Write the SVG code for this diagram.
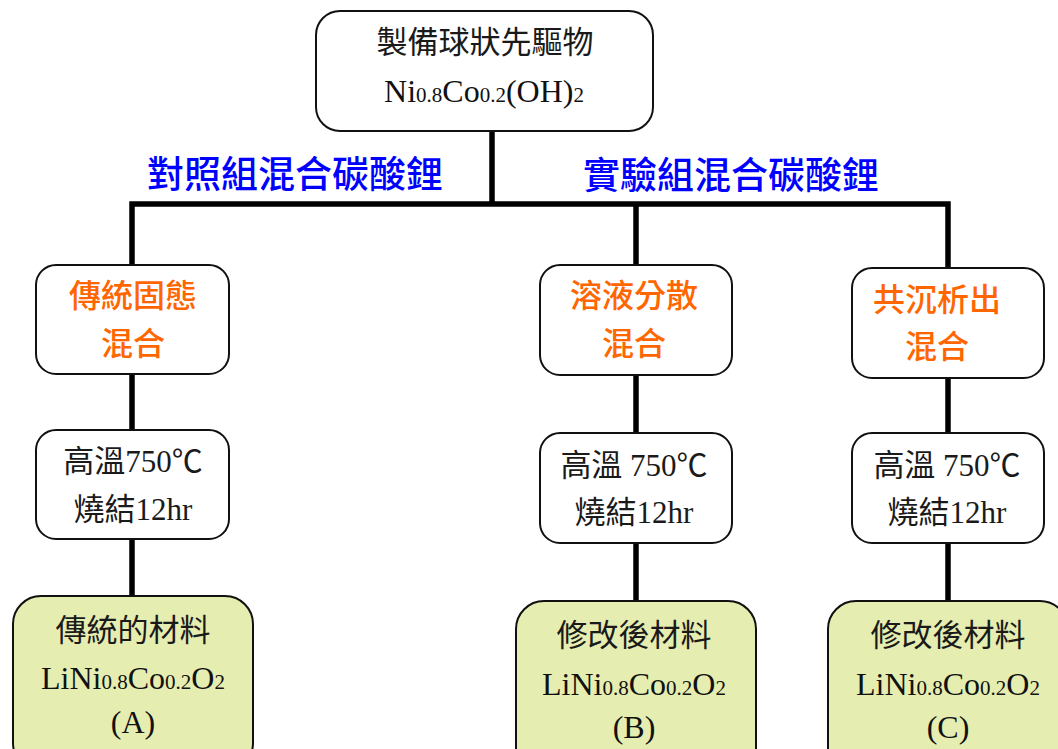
<svg xmlns="http://www.w3.org/2000/svg" width="1058" height="749" viewBox="0 0 1058 749">
<style>
.box{fill:#fff;stroke:#111;stroke-width:2}
.gbox{fill:#E6EDB0;stroke:#111;stroke-width:2}
.conn{fill:none;stroke:#000;stroke-width:5.5;stroke-linejoin:miter}
.t{font-family:"Liberation Serif","Noto Sans CJK TC",serif;font-size:31px;fill:#1a1a1a;text-anchor:middle}
.f{font-family:"Liberation Serif","Noto Sans CJK TC",serif;font-size:32px;fill:#111;text-anchor:middle}
.s{font-size:21px}
.o{font-family:"Noto Sans CJK TC",sans-serif;font-size:32px;font-weight:500;fill:#FF6600;text-anchor:middle}
.b{font-family:"Noto Sans CJK TC",sans-serif;font-size:37px;font-weight:500;fill:#0000FF;text-anchor:middle}
</style>
<rect width="1058" height="749" fill="#fff"/>
<g id="connectors">
<path class="conn" d="M492,131 V204"/>
<path class="conn" d="M132,265 V204 H948 V268"/>
<path class="conn" d="M636,204 V265"/>
<path class="conn" d="M132,374 V430 M132,539 V596"/>
<path class="conn" d="M636,375 V433 M636,543 V601"/>
<path class="conn" d="M948,378 V433 M948,543 V601"/>
</g>
<g id="label-control"><text class="b" x="295" y="188">對照組混合碳酸鋰</text></g>
<g id="label-experiment"><text class="b" x="731" y="189">實驗組混合碳酸鋰</text></g>
<g id="precursor">
<rect class="box" x="316" y="11" width="337" height="120" rx="24"/>
<text class="t" x="485" y="53">製備球狀先驅物</text>
<text class="f" x="484" y="102">Ni<tspan class="s">0.8</tspan>Co<tspan class="s">0.2</tspan>(OH)<tspan class="s">2</tspan></text>
</g>
<g id="mix-solid">
<rect class="box" x="36" y="265" width="193" height="109" rx="20"/>
<text class="o" x="133" y="307">傳統固態</text>
<text class="o" x="133" y="355">混合</text>
</g>
<g id="mix-solution">
<rect class="box" x="540" y="265" width="192" height="110" rx="20"/>
<text class="o" x="634" y="307">溶液分散</text>
<text class="o" x="634" y="355">混合</text>
</g>
<g id="mix-coprecip">
<rect class="box" x="852" y="268" width="192" height="110" rx="20"/>
<text class="o" x="937" y="311">共沉析出</text>
<text class="o" x="937" y="358">混合</text>
</g>
<g id="sinter-a">
<rect class="box" x="36" y="430" width="193" height="109" rx="20"/>
<text class="t" x="133" y="472">高溫750℃</text>
<text class="t" x="133" y="520">燒結12hr</text>
</g>
<g id="sinter-b">
<rect class="box" x="540" y="433" width="192" height="110" rx="20"/>
<text class="t" x="634" y="476">高溫 750℃</text>
<text class="t" x="634" y="523">燒結12hr</text>
</g>
<g id="sinter-c">
<rect class="box" x="852" y="433" width="192" height="110" rx="20"/>
<text class="t" x="947" y="476">高溫 750℃</text>
<text class="t" x="947" y="523">燒結12hr</text>
</g>
<g id="material-a">
<rect class="gbox" x="13" y="596" width="240" height="175" rx="28"/>
<text class="t" x="133" y="641">傳統的材料</text>
<text class="f" x="133" y="689">LiNi<tspan class="s">0.8</tspan>Co<tspan class="s">0.2</tspan>O<tspan class="s">2</tspan></text>
<text class="f" x="133" y="733">(A)</text>
</g>
<g id="material-b">
<rect class="gbox" x="516" y="601" width="240" height="175" rx="28"/>
<text class="t" x="634" y="646">修改後材料</text>
<text class="f" x="634" y="695">LiNi<tspan class="s">0.8</tspan>Co<tspan class="s">0.2</tspan>O<tspan class="s">2</tspan></text>
<text class="f" x="634" y="738">(B)</text>
</g>
<g id="material-c">
<rect class="gbox" x="828" y="601" width="240" height="175" rx="28"/>
<text class="t" x="948" y="646">修改後材料</text>
<text class="f" x="948" y="695">LiNi<tspan class="s">0.8</tspan>Co<tspan class="s">0.2</tspan>O<tspan class="s">2</tspan></text>
<text class="f" x="948" y="738">(C)</text>
</g>
</svg>
